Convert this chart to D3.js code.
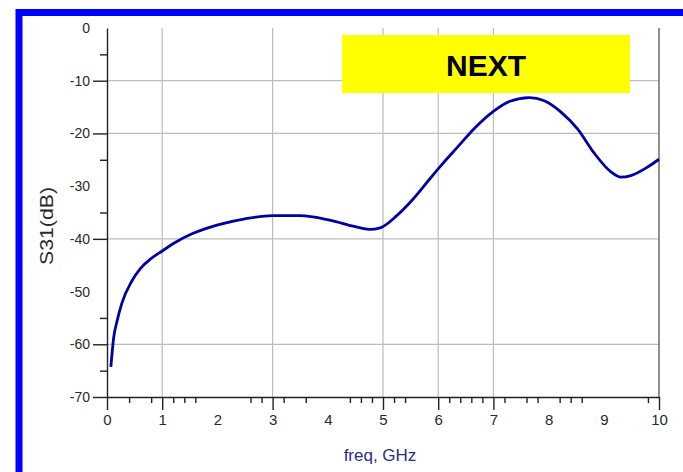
<!DOCTYPE html>
<html>
<head>
<meta charset="utf-8">
<script src="https://cdn.jsdelivr.net/npm/d3@7"></script>
<style>
  html, body { margin: 0; padding: 0; background: #fff; }
  svg { display: block; }
</style>
</head>
<body>
<svg id="chart" width="683" height="472"></svg>
<script>
// ---- data ----
const freq = [0.07, 0.12, 0.18, 0.27, 0.45, 0.6, 0.78, 1.0, 1.25, 1.55, 1.8, 2.1, 2.5, 3.0, 3.5,
              4.05, 4.5, 4.75, 4.95, 5.25, 5.55, 5.85, 6.05, 6.35, 6.65, 7.0, 7.3, 7.65, 7.92,
              8.22, 8.52, 8.83, 9.13, 9.31, 9.49, 9.79, 10.0];
const s31 = [-64.3, -58.8, -55.7, -52.2, -48.0, -45.7, -43.9, -42.3, -40.6, -39.0, -38.0, -37.1, -36.2, -35.6, -35.6,
             -36.5, -37.7, -38.2, -37.9, -35.6, -32.4, -28.6, -26.1, -22.6, -19.1, -15.8, -13.9, -13.2, -13.8,
             -15.9, -19.1, -23.8, -27.3, -28.3, -28.0, -26.4, -24.9];
const xLabels = [0, 1, 2, 3, 4, 5, 6, 7, 8, 9, 10];
const xMajorTicks = [0, 1, 3, 5, 6, 7, 10];
const xMinorTicks = [0.4, 0.8, 1.2, 1.4, 1.6, 2.6, 2.8, 3.2, 3.6, 4.4, 4.6, 4.8, 5.2, 5.4,
                     6.2, 6.4, 6.6, 6.8, 7.2, 7.6, 7.8, 8.2, 8.4, 8.6, 9.8];
const xGrid = [1, 3, 5, 6, 7];
const yLabels = [0, -10, -20, -30, -40, -50, -60, -70];
const yMajorTicks = [-10, -20, -40, -60, -70];
const yMinorTicks = [-5, -25, -35, -55, -65];
const yGrid = [-10, -20, -40, -60];
const xTitle = "freq, GHz";
const yTitle = "S31(dB)";
const badge = "NEXT";

// ---- layout ----
const svg = d3.select("#chart");
const L = 107, R = 659, T = 28, B = 397;
const x = d3.scaleLinear().domain([0, 10]).range([L, R]);
const y = d3.scaleLinear().domain([-70, 0]).range([B, T]);
const fmt = d => String(d);

// outer blue frame (only top and left visible)
svg.append("rect")
  .attr("x", 19).attr("y", 12.5)
  .attr("width", 760).attr("height", 560)
  .attr("fill", "none").attr("stroke", "#0000ff").attr("stroke-width", 7);

// grid
const grid = svg.append("g");
grid.selectAll("line.gx").data(xGrid).join("line")
  .attr("x1", d => x(d)).attr("x2", d => x(d))
  .attr("y1", T).attr("y2", B)
  .attr("stroke", "#bdbdbd").attr("stroke-width", 1.2);
grid.selectAll("line.gy").data(yGrid).join("line")
  .attr("x1", L).attr("x2", R)
  .attr("y1", d => y(d)).attr("y2", d => y(d))
  .attr("stroke", "#bdbdbd").attr("stroke-width", 1.2);

// right border line
svg.append("line")
  .attr("x1", R).attr("x2", R).attr("y1", T).attr("y2", B)
  .attr("stroke", "#555").attr("stroke-width", 1.3);

// ---- x axis ----
function styleAxis(g) {
  g.select(".domain").attr("stroke", "#222").attr("stroke-width", 1.4);
  g.selectAll(".tick line").attr("stroke", "#222").attr("stroke-width", 1.4);
}
const xMajor = svg.append("g").attr("transform", `translate(0,${B})`)
  .call(d3.axisBottom(x).tickValues(xMajorTicks).tickSize(13).tickSizeOuter(0).tickFormat(""));
styleAxis(xMajor);
const xMinor = svg.append("g").attr("transform", `translate(0,${B})`)
  .call(d3.axisBottom(x).tickValues(xMinorTicks).tickSize(6).tickSizeOuter(0).tickFormat(""));
styleAxis(xMinor);
xMinor.select(".domain").remove();
const xLab = svg.append("g").attr("transform", `translate(0,${B})`)
  .call(d3.axisBottom(x).tickValues(xLabels).tickSize(0).tickPadding(17).tickFormat(fmt));
xLab.select(".domain").remove();
xLab.selectAll("text")
  .attr("font-family", "'Liberation Sans', Arial, sans-serif")
  .attr("font-size", 15).attr("fill", "#2a2a2a");

// ---- y axis ----
const yMajor = svg.append("g").attr("transform", `translate(${L},0)`)
  .call(d3.axisLeft(y).tickValues(yMajorTicks).tickSize(14).tickSizeOuter(0).tickFormat(""));
styleAxis(yMajor);
const yMinor = svg.append("g").attr("transform", `translate(${L},0)`)
  .call(d3.axisLeft(y).tickValues(yMinorTicks).tickSize(7).tickSizeOuter(0).tickFormat(""));
styleAxis(yMinor);
yMinor.select(".domain").remove();
const yLab = svg.append("g").attr("transform", `translate(${L},0)`)
  .call(d3.axisLeft(y).tickValues(yLabels).tickSize(0).tickPadding(17).tickFormat(fmt));
yLab.select(".domain").remove();
yLab.selectAll("text")
  .attr("font-family", "'Liberation Sans', Arial, sans-serif")
  .attr("font-size", 14).attr("fill", "#2a2a2a");

// ---- titles ----
svg.append("text")
  .attr("x", (L + R) / 2 - 3).attr("y", 461)
  .attr("text-anchor", "middle")
  .attr("font-family", "'Liberation Sans', Arial, sans-serif")
  .attr("font-size", 17).attr("fill", "#2b2b8f")
  .text(xTitle);
svg.append("text")
  .attr("transform", "translate(53,226) rotate(-90)")
  .attr("text-anchor", "middle")
  .attr("font-family", "'Liberation Sans', Arial, sans-serif")
  .attr("font-size", 19).attr("fill", "#2a2a2a")
  .attr("textLength", 78).attr("lengthAdjust", "spacingAndGlyphs")
  .text(yTitle);

// ---- curve ----
const pts = freq.map((f, i) => [f, s31[i]]);
svg.append("path")
  .datum(pts)
  .attr("fill", "none")
  .attr("stroke", "#0000a8")
  .attr("stroke-width", 2.8)
  .attr("stroke-linejoin", "round")
  .attr("d", d3.line().x(d => x(d[0])).y(d => y(d[1])).curve(d3.curveMonotoneX));

// ---- NEXT badge ----
svg.append("rect")
  .attr("x", 342).attr("y", 35).attr("width", 288).attr("height", 58)
  .attr("fill", "#ffff00");
svg.append("text")
  .attr("x", 486).attr("y", 76)
  .attr("text-anchor", "middle")
  .attr("font-family", "'Liberation Sans', Arial, sans-serif")
  .attr("font-weight", "bold")
  .attr("font-size", 30).attr("fill", "#000")
  .text(badge);
</script>
</body>
</html>
